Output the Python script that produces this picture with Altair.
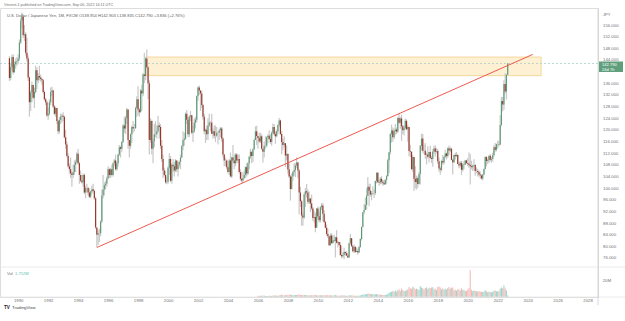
import altair as alt
import pandas as pd

FONT = "Liberation Sans"

# ---------------- data (USD/JPY monthly) ----------------
START_YEAR, START_MONTH = 1989, 6
FIRST_OPEN = 144.6

CLOSE = [
    137.8, 141.5, 145.0, 139.8, 142.5, 143.4, 143.6,                      # 1989 Jun-Dec
    144.5, 150.0, 157.5, 158.8, 152.5, 152.8, 146.5, 144.5, 138.0, 129.5, 132.8, 135.4,  # 1990
    131.0, 133.0, 140.5, 137.0, 138.5, 138.0, 137.5, 137.0, 133.0, 130.5, 129.5, 124.9,  # 1991
    125.5, 129.5, 133.0, 133.5, 128.0, 125.5, 127.5, 123.0, 119.5, 123.5, 124.5, 124.8,  # 1992
    124.5, 117.5, 115.0, 111.0, 107.5, 106.5, 105.0, 104.5, 105.5, 108.0, 109.0, 111.8,  # 1993
    108.5, 104.5, 102.5, 102.0, 104.5, 98.5, 100.0, 100.0, 98.5, 97.0, 98.8, 99.6,       # 1994
    99.0, 96.5, 86.5, 84.0, 84.5, 84.5, 88.5, 97.5, 99.5, 101.0, 101.5, 103.3,           # 1995
    106.5, 104.5, 106.5, 104.5, 108.5, 109.5, 106.5, 108.5, 111.5, 114.0, 113.5, 115.8,  # 1996
    121.5, 120.5, 124.0, 127.0, 116.5, 114.5, 118.5, 121.0, 120.5, 120.5, 127.5, 130.5,  # 1997
    127.0, 126.0, 133.5, 132.5, 139.0, 138.5, 144.5, 141.5, 136.0, 116.5, 123.0, 113.5,  # 1998
    116.0, 118.5, 118.5, 119.5, 121.5, 121.0, 114.5, 110.0, 106.0, 104.5, 102.0, 102.2,  # 1999
    107.0, 110.0, 102.5, 108.0, 107.5, 106.0, 109.5, 106.5, 108.0, 109.0, 110.5, 114.4,  # 2000
    116.5, 117.0, 125.5, 123.5, 118.5, 124.5, 125.0, 119.0, 119.5, 122.5, 123.5, 131.6,  # 2001
    134.5, 133.5, 132.5, 128.5, 124.5, 119.5, 120.0, 118.5, 121.5, 122.5, 122.5, 118.7,  # 2002
    119.5, 118.0, 118.0, 119.0, 119.0, 119.8, 120.5, 117.0, 111.5, 109.5, 109.5, 107.2,  # 2003
    105.5, 109.5, 104.0, 110.5, 109.5, 108.5, 111.5, 109.5, 110.0, 105.5, 103.2, 102.6,  # 2004
    103.5, 104.5, 107.2, 105.0, 108.5, 110.8, 112.5, 111.0, 113.3, 116.5, 119.5, 117.9,  # 2005
    117.2, 116.0, 117.8, 113.5, 112.5, 114.5, 114.5, 117.5, 118.0, 116.9, 115.8, 119.0,  # 2006
    121.0, 118.5, 117.8, 119.5, 121.7, 123.2, 118.6, 115.8, 114.8, 115.4, 111.2, 111.7,  # 2007
    106.4, 104.0, 99.7, 104.0, 105.5, 106.2, 107.8, 108.8, 106.0, 98.5, 95.5, 90.6,      # 2008
    89.9, 97.8, 98.9, 98.5, 95.3, 96.4, 94.7, 93.0, 89.7, 90.1, 86.4, 93.0,              # 2009
    90.3, 89.0, 93.4, 94.0, 91.2, 88.4, 86.4, 84.2, 83.5, 80.4, 83.7, 81.1,              # 2010
    82.0, 81.8, 83.1, 81.2, 81.5, 80.5, 77.0, 76.6, 77.0, 78.1, 77.6, 76.9,              # 2011
    76.2, 81.1, 82.8, 80.0, 78.3, 79.8, 78.1, 78.4, 77.9, 79.8, 82.5, 86.7,              # 2012
    91.7, 92.5, 94.2, 97.4, 100.5, 99.1, 97.8, 98.2, 98.2, 98.3, 102.4, 105.3,           # 2013
    102.0, 101.8, 103.2, 102.2, 101.8, 101.3, 102.8, 104.1, 109.6, 112.3, 118.6, 119.8,  # 2014
    117.5, 119.6, 120.1, 119.4, 124.1, 122.4, 123.9, 121.2, 119.9, 120.6, 123.1, 120.2,  # 2015
    121.0, 112.7, 112.5, 106.5, 110.7, 103.2, 102.1, 103.4, 101.4, 104.8, 114.5, 117.0,  # 2016
    112.8, 112.8, 111.4, 111.5, 110.8, 112.4, 110.3, 110.0, 112.5, 113.6, 112.5, 112.7,  # 2017
    109.2, 106.7, 106.3, 109.3, 108.8, 110.7, 111.9, 111.0, 113.7, 112.9, 113.5, 109.7,  # 2018
    108.9, 111.4, 110.9, 111.4, 108.3, 107.8, 108.7, 106.3, 108.1, 108.0, 109.5, 108.6,  # 2019
    108.4, 107.9, 107.5, 107.2, 107.8, 107.9, 105.9, 105.9, 105.5, 104.7, 104.3, 103.3,  # 2020
    104.7, 106.6, 110.7, 109.3, 109.6, 111.1, 109.7, 110.0, 111.3, 114.0, 113.2, 115.1,  # 2021
    115.1, 115.0, 121.7, 129.9, 128.7, 135.7, 133.2, 138.954, 142.790,                 # 2022 Jan-Sep
]

HIGH = [
    145.3, 143.0, 145.8, 146.0, 143.5, 144.5, 145.0,
    146.0, 151.0, 158.5, 160.3, 159.5, 156.0, 153.5, 151.5, 145.5, 138.3, 133.5, 136.5,
    135.5, 134.5, 142.0, 141.5, 139.5, 142.0, 139.0, 138.0, 137.5, 133.5, 131.0, 130.0,
    127.5, 130.5, 134.5, 134.8, 133.8, 128.5, 128.0, 127.5, 123.5, 124.5, 125.5, 125.5,
    126.0, 124.8, 120.0, 116.0, 112.0, 108.5, 110.5, 105.5, 108.0, 109.5, 109.8, 112.5,
    113.5, 109.0, 106.0, 104.5, 105.0, 105.0, 100.8, 101.5, 100.5, 100.0, 99.2, 100.8,
    101.5, 99.5, 97.0, 86.5, 85.5, 86.0, 89.0, 99.5, 104.5, 102.0, 102.5, 104.0,
    107.5, 107.0, 107.0, 108.0, 108.8, 110.0, 111.5, 109.0, 111.8, 114.8, 114.5, 116.2,
    122.0, 124.5, 124.8, 127.5, 127.0, 116.5, 118.8, 121.5, 123.0, 122.0, 128.0, 131.5,
    135.0, 127.5, 134.0, 135.5, 139.5, 146.5, 145.0, 147.6, 142.0, 137.0, 124.0, 123.5,
    117.0, 122.0, 123.0, 121.5, 124.8, 122.5, 122.0, 116.5, 111.5, 107.0, 106.0, 104.0,
    107.5, 112.0, 111.0, 108.5, 110.0, 109.0, 110.0, 109.5, 109.0, 109.5, 111.5, 114.8,
    119.5, 119.0, 126.0, 126.8, 124.5, 125.0, 126.5, 125.0, 121.5, 124.0, 124.5, 131.8,
    135.0, 135.2, 133.5, 133.5, 129.0, 125.5, 120.5, 121.5, 124.0, 125.5, 123.0, 125.5,
    120.5, 121.5, 121.5, 121.0, 119.5, 120.5, 121.0, 121.0, 117.5, 111.8, 110.5, 109.8,
    107.5, 110.0, 112.2, 110.8, 114.8, 111.5, 112.0, 112.0, 111.5, 111.5, 106.5, 105.5,
    105.3, 106.0, 107.5, 108.5, 109.0, 111.0, 113.5, 112.5, 113.7, 117.0, 121.2, 121.4,
    118.0, 119.0, 119.0, 118.5, 113.5, 116.0, 117.8, 117.8, 118.5, 119.9, 118.5, 119.5,
    122.2, 122.0, 119.5, 120.0, 121.8, 124.1, 123.5, 119.5, 117.0, 117.8, 115.0, 114.6,
    112.0, 108.5, 104.5, 105.0, 106.0, 108.6, 108.5, 110.6, 109.0, 106.5, 100.5, 96.0,
    91.5, 98.5, 100.0, 101.4, 99.5, 98.8, 96.5, 97.8, 93.5, 92.2, 91.5, 93.2,
    93.7, 92.0, 93.8, 94.9, 94.9, 92.5, 88.8, 87.5, 86.0, 83.5, 84.4, 84.5,
    83.7, 84.0, 83.3, 85.5, 82.0, 81.7, 81.5, 80.2, 77.9, 79.5, 78.3, 78.3,
    77.8, 81.2, 84.2, 82.5, 80.5, 80.6, 80.1, 79.6, 79.2, 80.2, 82.8, 86.7,
    91.7, 94.5, 96.7, 99.9, 103.7, 101.5, 101.5, 99.0, 100.6, 99.5, 102.6, 105.4,
    105.4, 102.8, 103.8, 104.1, 102.8, 102.8, 103.1, 104.5, 110.1, 112.5, 119.0, 121.8,
    120.8, 120.5, 122.0, 120.8, 124.5, 125.9, 124.5, 125.3, 121.7, 121.5, 123.8, 123.6,
    121.7, 121.0, 114.9, 112.0, 111.4, 110.6, 107.5, 104.3, 104.0, 105.5, 114.8, 118.7,
    118.6, 114.9, 115.5, 112.2, 114.4, 112.5, 114.5, 111.0, 113.3, 114.5, 114.7, 113.8,
    113.4, 110.5, 107.3, 109.8, 111.4, 111.0, 113.2, 112.2, 113.9, 114.6, 114.2, 113.8,
    110.0, 111.5, 112.1, 112.4, 111.7, 109.0, 109.3, 109.3, 108.5, 109.3, 109.7, 109.7,
    110.3, 112.2, 111.7, 109.4, 108.1, 109.9, 108.2, 107.1, 106.6, 106.1, 105.7, 104.8,
    104.9, 106.7, 110.9, 110.9, 110.2, 111.1, 111.7, 110.8, 112.1, 114.7, 115.5, 115.3,
    116.3, 116.3, 125.1, 131.3, 131.3, 137.0, 139.4, 139.1, 142.903,
]

LOW = [
    136.8, 137.0, 140.5, 139.0, 139.5, 141.0, 142.0,
    142.5, 143.8, 149.5, 154.8, 151.5, 150.5, 145.5, 143.5, 136.8, 124.5, 126.5, 129.5,
    130.5, 127.5, 132.5, 134.0, 136.0, 137.0, 136.5, 135.5, 132.5, 130.0, 128.5, 124.5,
    123.5, 125.0, 128.5, 131.5, 127.5, 125.0, 124.5, 122.0, 118.5, 118.8, 122.0, 122.5,
    123.0, 117.0, 113.5, 110.5, 107.0, 105.0, 103.5, 100.5, 103.5, 104.5, 105.5, 108.5,
    108.0, 101.5, 102.0, 101.5, 100.5, 98.0, 96.5, 98.5, 97.5, 96.5, 96.5, 98.0,
    98.5, 96.0, 86.0, 79.8, 80.5, 81.5, 83.5, 88.0, 96.5, 97.5, 99.5, 100.5,
    103.0, 103.5, 103.5, 104.0, 104.0, 107.5, 106.0, 106.0, 107.5, 111.0, 110.5, 112.5,
    115.5, 119.0, 118.5, 122.0, 113.5, 110.5, 113.5, 115.5, 119.0, 119.5, 120.5, 124.5,
    125.0, 124.5, 126.0, 126.5, 131.5, 136.0, 137.0, 141.0, 130.5, 111.5, 115.5, 111.5,
    108.5, 114.0, 117.5, 117.0, 119.0, 117.0, 113.5, 109.0, 103.5, 104.0, 101.5, 101.3,
    101.5, 104.5, 102.0, 101.5, 105.5, 104.0, 105.5, 105.5, 104.0, 107.0, 106.5, 110.3,
    113.0, 114.5, 116.5, 122.0, 117.5, 117.5, 123.0, 118.5, 115.8, 119.0, 120.5, 122.5,
    130.0, 132.0, 126.5, 127.5, 123.5, 118.5, 115.5, 116.5, 116.5, 121.0, 119.5, 118.5,
    117.0, 117.0, 115.8, 117.5, 115.0, 116.5, 117.5, 115.8, 110.5, 107.5, 107.5, 106.5,
    105.0, 104.5, 103.8, 103.5, 108.5, 106.5, 107.5, 108.5, 108.5, 105.0, 102.5, 101.8,
    101.7, 103.0, 103.5, 104.0, 104.5, 106.5, 110.0, 108.5, 109.0, 113.0, 116.5, 114.8,
    113.5, 115.5, 115.5, 113.2, 108.8, 110.5, 113.5, 114.0, 115.5, 116.5, 115.2, 114.5,
    118.5, 118.0, 115.2, 117.5, 118.5, 121.0, 118.2, 111.6, 113.0, 114.0, 107.2, 109.5,
    104.9, 103.5, 95.7, 99.5, 102.5, 104.2, 103.8, 107.0, 103.5, 90.9, 93.5, 87.1,
    87.1, 89.5, 93.5, 96.8, 94.5, 94.5, 91.8, 92.5, 88.8, 88.2, 84.8, 86.5,
    89.5, 88.2, 88.2, 92.5, 88.5, 88.1, 86.1, 83.6, 82.9, 80.2, 80.3, 80.9,
    81.5, 81.5, 76.2, 81.0, 79.6, 80.2, 76.8, 75.9, 76.1, 75.6, 76.8, 76.6,
    76.0, 76.1, 80.5, 79.8, 78.0, 77.7, 77.8, 78.0, 77.1, 77.8, 79.5, 82.0,
    86.5, 90.9, 92.5, 92.6, 97.3, 93.8, 97.0, 95.8, 97.6, 96.6, 97.6, 101.6,
    101.8, 100.8, 101.2, 101.4, 100.8, 101.1, 101.1, 101.5, 104.0, 105.2, 111.5, 115.6,
    115.9, 116.9, 118.3, 118.5, 118.9, 122.0, 120.4, 116.2, 118.6, 118.1, 120.0, 119.9,
    115.9, 110.9, 110.7, 106.2, 105.5, 99.0, 99.9, 99.5, 100.1, 101.2, 101.2, 112.9,
    112.1, 111.6, 110.1, 108.1, 110.2, 108.8, 110.0, 108.6, 107.3, 111.7, 110.8, 111.9,
    108.3, 105.6, 104.6, 105.7, 108.1, 108.1, 110.3, 109.8, 110.4, 111.4, 112.3, 109.6,
    104.7, 108.5, 109.7, 110.8, 108.3, 106.8, 107.2, 104.5, 105.7, 106.5, 107.9, 108.4,
    107.6, 107.0, 101.2, 106.4, 105.9, 106.1, 104.2, 105.1, 104.0, 104.0, 103.2, 102.9,
    102.6, 104.4, 106.4, 107.5, 108.3, 108.6, 109.1, 108.7, 109.1, 110.8, 112.5, 112.6,
    113.5, 114.2, 114.7, 121.3, 126.4, 126.9, 132.5, 130.4, 138.835,
]

# monthly volume, millions, from Jan 2006
VOL_START = 2006
VOL = [
    1.5, 1.4, 1.6, 1.5, 1.8, 1.6, 1.5, 1.4, 1.3, 1.5, 1.6, 1.4,      # 2006
    1.8, 2.0, 2.2, 1.6, 1.7, 1.9, 2.3, 3.0, 2.2, 2.0, 2.6, 2.1,      # 2007
    2.8, 2.6, 3.0, 2.4, 2.2, 2.3, 2.5, 2.6, 3.0, 3.2, 2.4, 2.6,      # 2008
    2.2, 2.4, 2.6, 2.1, 2.3, 2.0, 2.2, 2.1, 2.3, 2.1, 2.5, 2.2,      # 2009
    2.0, 2.1, 2.2, 2.0, 2.6, 2.1, 2.0, 2.2, 2.4, 2.0, 2.1, 1.9,      # 2010
    1.8, 1.9, 2.4, 1.8, 1.7, 1.6, 1.9, 2.0, 1.8, 2.2, 1.6, 1.5,      # 2011
    1.6, 2.0, 2.3, 1.9, 1.8, 1.7, 1.6, 1.5, 1.6, 1.7, 2.0, 2.4,      # 2012
    3.0, 3.2, 3.1, 3.8, 4.2, 4.5, 3.6, 3.4, 3.3, 3.0, 3.5, 3.6,      # 2013
    3.2, 3.0, 2.8, 2.6, 2.5, 2.4, 2.6, 2.8, 4.0, 5.2, 6.0, 6.5,      # 2014
    7.5, 6.5, 8.2, 7.0, 8.5, 9.8, 7.6, 10.5, 8.8, 7.2, 7.8, 8.4,     # 2015
    9.5, 12.4, 11.0, 10.2, 12.8, 11.5, 9.8, 10.4, 9.6, 8.9, 13.5, 11.8,  # 2016
    10.9, 9.5, 11.2, 12.0, 10.1, 11.5, 10.8, 11.9, 12.2, 9.8, 10.5, 8.7,  # 2017
    12.5, 13.0, 11.8, 9.6, 10.8, 9.2, 10.2, 9.5, 11.0, 12.5, 10.4, 11.8,  # 2018
    12.0, 8.5, 9.2, 8.0, 9.6, 9.4, 8.2, 10.8, 8.6, 9.0, 7.4, 7.6,    # 2019
    9.2, 11.0, 33.5, 9.0, 7.5, 8.0, 7.8, 7.0, 6.8, 7.4, 6.9, 6.5,    # 2020
    6.2, 6.8, 8.4, 7.2, 6.0, 6.5, 6.4, 5.8, 6.6, 7.9, 8.2, 6.8,      # 2021
    7.5, 6.8, 10.2, 12.0, 11.0, 14.5, 10.5, 8.0, 1.752,              # 2022
]

TREND_T = [1995.25, 2024.34]
TREND_P = [79.6, 145.9]
ZONE_T = [1998.5, 2024.9]
ZONE_P = [138.6, 145.0]
# 140.000 sits under the last-price tag and is not visible in the reference
PRICE_TICKS = [76, 80, 84, 88, 92, 96, 100, 104, 108, 112, 116, 120, 124, 128, 132, 136, 144, 148, 152, 156]
YEAR_TICKS = list(range(1990, 2029, 2))

UP, DOWN = "#5a9a76", "#9c3326"
VUP, VDOWN = "#9fd5cc", "#f5b9b4"

# ---------------- tables ----------------
rows = []
prev = FIRST_OPEN
for i, (c, h, l) in enumerate(zip(CLOSE, HIGH, LOW)):
    k = START_MONTH - 1 + i
    t = START_YEAR + k // 12 + (k % 12) / 12
    o = prev
    up = c >= o
    rows.append(dict(t=t, open=o, high=max(h, o, c), low=min(l, o, c), close=c,
                     col=UP if up else DOWN, vcol=VUP if up else VDOWN))
    prev = c
df = pd.DataFrame(rows)

vrows = []
for j, v in enumerate(VOL):
    t = VOL_START + j // 12 + (j % 12) / 12
    idx = (VOL_START - START_YEAR) * 12 - (START_MONTH - 1) + j
    vrows.append(dict(t=t, v=v, vcol=df.loc[idx, "vcol"]))
vdf = pd.DataFrame(vrows)

trend_df = pd.DataFrame({"t": TREND_T, "p": TREND_P})
zone_df = pd.DataFrame({"t1": [ZONE_T[0]], "t2": [ZONE_T[1]], "p1": [ZONE_P[0]], "p2": [ZONE_P[1]]})
last_df = pd.DataFrame({"p": [CLOSE[-1]]})

# ---------------- scales / encodings ----------------
W, H = 598, 289
XS = alt.Scale(domain=[1989.12, 2028.36], nice=False, zero=False)
XAX = alt.Axis(values=YEAR_TICKS, format="d", grid=False, domain=False, ticks=False,
               labelFontSize=4.3, labelColor="#707070", labelPadding=1.5, labelFont=FONT,
               labelOverlap=False, labelFlush=False)
PS = alt.Scale(domain=[62.609, 161.837], nice=False, zero=False)
PAX = alt.Axis(orient="right", values=PRICE_TICKS, format=".3f", grid=False, domain=False,
               ticks=False, labelFontSize=4.3, labelColor="#707070", labelPadding=4.5,
               labelFont=FONT, labelOverlap=False, labelFlush=False)
VS = alt.Scale(domain=[0, 361.25], nice=False, zero=True)


def X(f):
    return alt.X(f"{f}:Q", scale=XS, axis=XAX, title=None)


def PY(f):
    return alt.Y(f"{f}:Q", scale=PS, axis=PAX, title=None)


zone = alt.Chart(zone_df).mark_rect(fill="#fdf0d3", stroke="#f3d089", strokeWidth=0.8).encode(
    x=X("t1"), x2="t2", y=PY("p1"), y2="p2")
pline = alt.Chart(last_df).mark_rule(color="#9fcac3", strokeDash=[2, 2], strokeWidth=0.7).encode(
    y=PY("p"))
wick = alt.Chart(df).mark_rule(color="#c8c8c8", strokeWidth=1.2).encode(
    x=X("t"), y=PY("low"), y2="high")
body = alt.Chart(df).mark_bar(size=1.15).encode(
    x=X("t"), y=PY("open"), y2="close", color=alt.Color("col:N", scale=None))
trend = alt.Chart(trend_df).mark_line(color="#ef5a50", strokeWidth=1.0).encode(
    x=X("t"), y=PY("p"))

price = alt.layer(zone, pline, wick, body, trend)

vbars = alt.Chart(vdf).mark_bar(size=1.1).encode(
    x=X("t"), y=alt.Y("v:Q", scale=VS, axis=None, title=None),
    color=alt.Color("vcol:N", scale=None))
v20 = alt.Chart(pd.DataFrame({"v": [20], "s": ["20M"]})).mark_text(
    align="left", baseline="middle", fontSize=4.3, color="#707070", font=FONT).encode(
    x=alt.value(602.7), y=alt.Y("v:Q", scale=VS, axis=None, title=None), text="s:N")
vol = alt.layer(vbars, v20)


def txt(s, x, y, size=4.3, color="#707070", weight="normal", align="left"):
    return alt.Chart(pd.DataFrame({"s": [s]})).mark_text(
        align=align, baseline="middle", fontSize=size, color=color, font=FONT,
        fontWeight=weight).encode(x=alt.value(x), y=alt.value(y), text="s:N")


def hrule(y, x1, x2, color="#e6e6e6"):
    return alt.Chart(pd.DataFrame({"a": [0]})).mark_rule(color=color, strokeWidth=0.8).encode(
        x=alt.value(x1), x2=alt.value(x2), y=alt.value(y))


def vrule(x, y1, y2, color="#cfcfcf"):
    return alt.Chart(pd.DataFrame({"a": [0]})).mark_rule(color=color, strokeWidth=0.8).encode(
        x=alt.value(x), y=alt.value(y1), y2=alt.value(y2))


o, hh, ll, c = df.iloc[-1][["open", "high", "low", "close"]]
chg = c - o
legend = (f"U.S. Dollar / Japanese Yen, 1M, FXCM  O{o:.3f}  H{hh:.3f}  L{ll:.3f}  "
          f"C{c:.3f}  +{chg:.3f} (+{chg / o * 100:.2f}%)")

tag = alt.Chart(pd.DataFrame({"a": [0]})).mark_rect(fill="#5f9f7c").encode(
    x=alt.value(599), x2=alt.value(623), y=alt.value(53.5), y2=alt.value(64))

decor = [
    hrule(259, 0, 625), hrule(289, 0, 625),
    vrule(W, 1, 297),
    txt("Vincent-1 published on TradingView.com, Sep 06, 2022 14:11 UTC", 4, -3, 3.7, "#6d6d6d"),
    txt(legend, 7, 8, 4.1, "#5d5d5d"),
    txt("JPY", 603, 7, 4.1),
    tag,
    txt(f"{CLOSE[-1]:.3f}", 602, 56.5, 4.1, "white"),
    txt("24d 7h", 602, 61.5, 4.1, "white"),
    txt("Vol", 7, 266, 4.1, "#707070"),
    txt(f"{VOL[-1]:.3f}M", 15, 266, 4.1, "#5fbfb0"),
    txt("TV", 4, 300, 4.6, "#222222", "bold"),
    txt("TradingView", 12, 300, 4.3, "#444444"),
]

chart = alt.layer(price, vol, *decor).resolve_scale(y="independent").properties(
    width=W, height=H,
    autosize=alt.AutoSizeParams(type="none"),
    padding={"left": 0, "top": 8, "right": 27, "bottom": 24},
).configure_view(strokeWidth=0).configure(background="white")

chart.save("out.html", embed_options={"renderer": "svg", "actions": False})
